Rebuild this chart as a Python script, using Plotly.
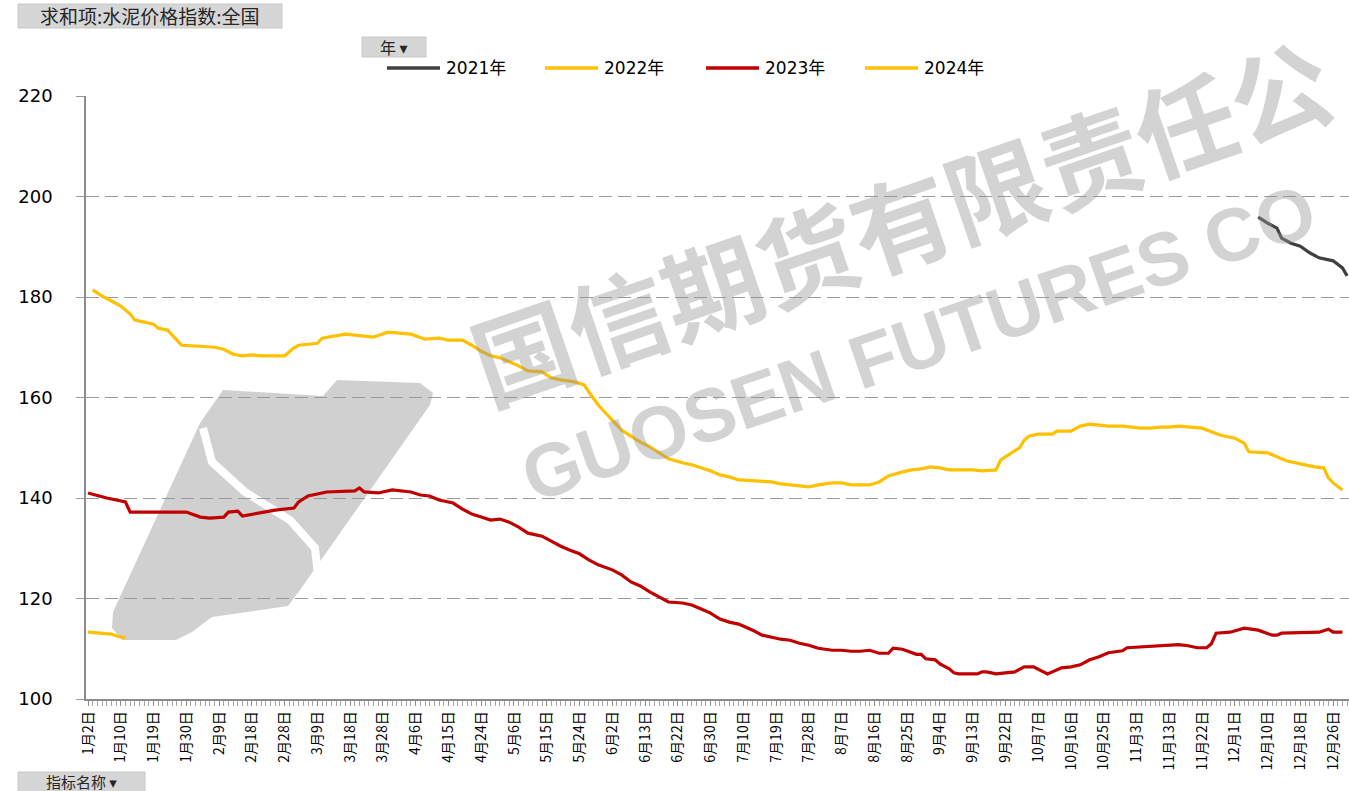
import plotly.graph_objects as go

# ---------------- data ----------------
tick_labels = ["1月2日", "1月10日", "1月19日", "1月30日", "2月9日", "2月18日", "2月28日",
               "3月9日", "3月18日", "3月28日", "4月6日", "4月15日", "4月24日", "5月6日",
               "5月15日", "5月24日", "6月2日", "6月13日", "6月22日", "6月30日", "7月10日",
               "7月19日", "7月28日", "8月7日", "8月16日", "8月25日", "9月4日", "9月13日",
               "9月22日", "10月7日", "10月16日", "10月25日", "11月3日", "11月13日",
               "11月22日", "12月1日", "12月10日", "12月18日", "12月26日"]
TICK_STEP = 7  # categories between labelled ticks

idx_2021 = [250, 252, 254, 255, 257, 259, 261, 263, 266, 268, 269]
val_2021 = [195.9, 194.7, 193.7, 191.7, 190.7, 190.1, 188.8, 187.8, 187.2, 185.8, 184.2]

idx_2022 = [1, 3, 5, 7, 9, 10, 12, 14, 15, 17, 19, 20, 24, 27, 29, 31, 33, 35, 37, 42,
            44, 45, 49, 50, 55, 59, 61, 64, 69, 72, 75, 77, 80, 82, 84, 86, 88, 90, 92,
            94, 97, 99, 101, 104, 106, 107, 109, 112, 114, 116, 118, 120, 122, 124, 127,
            129, 131, 133, 135, 137, 139, 142, 144, 146, 148, 150, 152, 154, 156, 159,
            161, 163, 165, 167, 169, 171, 174, 176, 178, 180, 182, 184, 186, 189, 191,
            193, 194, 195, 197, 199, 200, 201, 203, 206, 207, 210, 212, 214, 216, 218,
            221, 223, 225, 227, 229, 231, 233, 238, 242, 245, 247, 248, 252, 254, 256,
            260, 262, 264, 265, 266, 268]
val_2022 = [181.4, 180.2, 179.2, 178.2, 176.6, 175.4, 175.0, 174.6, 173.8, 173.4, 171.4,
            170.4, 170.2, 170.0, 169.6, 168.6, 168.3, 168.5, 168.3, 168.3, 169.9, 170.4,
            170.8, 171.8, 172.6, 172.2, 172.0, 173.0, 172.6, 171.6, 171.8, 171.4, 171.4,
            170.4, 169.2, 168.3, 167.9, 167.1, 166.3, 165.3, 165.1, 163.9, 163.5, 163.1,
            162.5, 161.1, 158.5, 155.5, 153.5, 152.3, 151.1, 150.2, 149.0, 147.8, 147.0,
            146.6, 146.0, 145.4, 144.6, 144.2, 143.6, 143.4, 143.2, 143.2, 142.8, 142.6,
            142.4, 142.2, 142.6, 143.0, 143.0, 142.6, 142.6, 142.6, 143.2, 144.4, 145.2,
            145.6, 145.8, 146.2, 146.0, 145.6, 145.6, 145.6, 145.4, 145.6, 145.6, 147.6,
            148.8, 150.0, 151.5, 152.3, 152.7, 152.7, 153.3, 153.3, 154.3, 154.7, 154.5,
            154.3, 154.3, 154.1, 153.9, 153.9, 154.1, 154.1, 154.3, 153.9, 152.5, 151.9,
            150.9, 149.2, 149.0, 148.2, 147.4, 146.6, 146.2, 146.0, 144.0, 143.0, 141.6]

idx_2023 = [0, 4, 8, 9, 21, 24, 26, 29, 30, 32, 33, 37, 40, 44, 45, 47, 51, 57, 58, 59,
            62, 65, 69, 71, 73, 75, 78, 80, 82, 84, 86, 88, 90, 92, 94, 97, 99, 101, 103,
            105, 107, 109, 112, 114, 116, 118, 120, 122, 124, 127, 129, 131, 133, 135,
            137, 139, 142, 144, 146, 148, 150, 152, 154, 156, 159, 161, 163, 165, 167,
            169, 171, 172, 174, 176, 177, 178, 179, 181, 182, 184, 185, 186, 190, 191,
            192, 194, 196, 198, 200, 202, 205, 206, 208, 210, 212, 214, 216, 218, 221,
            222, 225, 229, 231, 233, 235, 237, 239, 240, 241, 244, 247, 250, 253, 254,
            255, 263, 265, 266, 268]
val_2023 = [141.0, 140.0, 139.2, 137.2, 137.2, 136.2, 136.0, 136.2, 137.2, 137.4, 136.4,
            137.0, 137.6, 138.0, 139.2, 140.4, 141.2, 141.4, 142.0, 141.2, 141.0, 141.6,
            141.2, 140.6, 140.4, 139.6, 139.0, 137.8, 136.8, 136.2, 135.6, 135.8, 135.2,
            134.2, 133.0, 132.4, 131.4, 130.4, 129.6, 128.9, 127.7, 126.7, 125.7, 124.7,
            123.3, 122.5, 121.3, 120.3, 119.3, 119.1, 118.7, 117.9, 117.1, 115.9, 115.3,
            114.9, 113.7, 112.7, 112.3, 111.9, 111.7, 111.1, 110.7, 110.1, 109.7, 109.7,
            109.5, 109.5, 109.7, 109.1, 109.1, 110.1, 109.9, 109.3, 108.9, 108.9, 108.0,
            107.8, 107.0, 106.0, 105.2, 105.0, 105.0, 105.4, 105.4, 105.0, 105.2, 105.4,
            106.4, 106.4, 105.0, 105.4, 106.2, 106.4, 106.8, 107.8, 108.4, 109.2, 109.6,
            110.2, 110.4, 110.6, 110.8, 110.8, 110.6, 110.2, 110.2, 111.0, 113.1, 113.3,
            114.1, 113.7, 112.7, 112.7, 113.1, 113.3, 113.9, 113.3, 113.3]

idx_2024 = [0, 3, 5, 6, 7, 8]
val_2024 = [113.3, 113.1, 112.9, 112.6, 112.3, 112.2]

series_names = ["2021年", "2022年", "2023年", "2024年"]
series_colors = ["#404040", "#FFC000", "#C00000", "#FFC000"]

# ---------------- geometry helpers (pixel -> paper) ----------------
W, H = 1349, 791
PL, PR, PT, PB = 86, 1349, 96, 699


def xp(px):
    return (px - PL) / (PR - PL)


def yp(py):
    return (PB - py) / (PB - PT)


fig = go.Figure()
all_idx = [idx_2021, idx_2022, idx_2023, idx_2024]
all_val = [val_2021, val_2022, val_2023, val_2024]
for name, col, xs, ys in zip(series_names, series_colors, all_idx, all_val):
    fig.add_trace(go.Scatter(x=xs, y=ys, mode="lines", name=name,
                             line=dict(color=col, width=3.2, shape="linear"),
                             showlegend=False, hoverinfo="x+y+name"))

tickvals = [i * TICK_STEP for i in range(len(tick_labels))]

fig.update_layout(
    width=W, height=H,
    margin=dict(l=PL, r=W - PR, t=PT, b=H - PB),
    paper_bgcolor="white", plot_bgcolor="white",
    font=dict(family="Noto Sans CJK SC, DejaVu Sans, sans-serif", color="#000000"),
    xaxis=dict(
        range=[-0.43, 269.4], tickmode="array", tickvals=tickvals, ticktext=tick_labels,
        tickangle=-90, tickfont=dict(size=14, family="Noto Sans CJK SC, sans-serif"),
        showgrid=False, zeroline=False, showline=True, linecolor="#8c8c8c", linewidth=1.5,
        ticks="outside", ticklen=5, tickcolor="#8c8c8c", tickwidth=1,
        minor=dict(dtick=1, tick0=0, ticks="outside", ticklen=5, tickcolor="#a6a6a6", tickwidth=1),
        fixedrange=True,
    ),
    yaxis=dict(
        range=[100, 220], tickmode="array", tickvals=[100, 120, 140, 160, 180, 200, 220],
        ticktext=["100", "120", "140", "160", "180", "200", "220"],
        tickfont=dict(size=18, family="DejaVu Sans, sans-serif", color="#000000"),
        showgrid=True, gridcolor="#9a9a9a", gridwidth=1.3, griddash="13px,6px",
        zeroline=False, showline=True, linecolor="#8c8c8c", linewidth=1.5,
        ticks="outside", ticklen=8, tickcolor="#9a9a9a", tickwidth=1.3,
        ticklabelstandoff=20, fixedrange=True,
    ),
)

annotations = []
shapes = []

# Watermark logo (grey slanted shape with white S stripe)
logo_pts = [(223, 390), (323, 396), (337, 380), (420, 383), (433, 393), (430, 405),
            (300, 590), (288, 606), (212, 617), (192, 632), (176, 640), (122, 640),
            (112, 628), (113, 612), (200, 423)]
path = "M " + " L ".join(f"{xp(a):.5f},{yp(b):.5f}" for a, b in logo_pts) + " Z"
shapes.append(dict(type="path", path=path, xref="paper", yref="paper",
                   fillcolor="rgba(150,150,150,0.45)", line=dict(width=0), layer="below"))
s_pts = [(203, 428), (212, 462), (245, 492), (290, 520), (315, 548), (318, 575), (300, 605)]
spath = "M " + " L ".join(f"{xp(a):.5f},{yp(b):.5f}" for a, b in s_pts)
shapes.append(dict(type="path", path=spath, xref="paper", yref="paper",
                   line=dict(color="white", width=8), layer="below"))

# Watermark texts (only the part visible in the frame)
annotations.append(dict(text="<b>国信期货有限责任公</b>", xref="paper", yref="paper",
                        x=xp(900), y=yp(218), xanchor="center", yanchor="middle",
                        showarrow=False, textangle=-19,
                        font=dict(size=100, color="rgba(150,150,150,0.42)",
                                  family="Noto Sans CJK SC")))
annotations.append(dict(text="<b>GUOSEN FUTURES CO</b>", xref="paper", yref="paper",
                        x=xp(918), y=yp(343), xanchor="center", yanchor="middle",
                        showarrow=False, textangle=-19,
                        font=dict(size=75, color="rgba(150,150,150,0.42)",
                                  family="Liberation Sans, Arial, sans-serif")))

# Header field buttons
shapes.append(dict(type="rect", xref="paper", yref="paper", x0=xp(18), x1=xp(282),
                   y0=yp(28), y1=yp(4), fillcolor="#d6d6d6", line=dict(color="#c8c8c8", width=1)))
annotations.append(dict(text="求和项:水泥价格指数:全国", xref="paper", yref="paper",
                        x=xp(150), y=yp(16), showarrow=False, xanchor="center", yanchor="middle",
                        font=dict(size=19, color="#262626")))
shapes.append(dict(type="rect", xref="paper", yref="paper", x0=xp(362), x1=xp(426),
                   y0=yp(57), y1=yp(37), fillcolor="#d6d6d6", line=dict(color="#c8c8c8", width=1)))
annotations.append(dict(text="年 ▾", xref="paper", yref="paper",
                        x=xp(394), y=yp(47), showarrow=False, xanchor="center", yanchor="middle",
                        font=dict(size=16, color="#262626")))
shapes.append(dict(type="rect", xref="paper", yref="paper", x0=xp(18), x1=xp(145),
                   y0=yp(795), y1=yp(772), fillcolor="#d6d6d6", line=dict(color="#c8c8c8", width=1)))
annotations.append(dict(text="指标名称 ▾", xref="paper", yref="paper",
                        x=xp(81), y=yp(781), showarrow=False, xanchor="center", yanchor="middle",
                        font=dict(size=15, color="#262626")))

# Legend (drawn manually to match long line samples)
legend_x = [387, 545, 706, 865]
for name, col, lx in zip(series_names, series_colors, legend_x):
    shapes.append(dict(type="line", xref="paper", yref="paper", x0=xp(lx), x1=xp(lx + 53),
                       y0=yp(68), y1=yp(68), line=dict(color=col, width=3.5)))
    annotations.append(dict(text=name, xref="paper", yref="paper", x=xp(lx + 57), y=yp(68),
                            showarrow=False, xanchor="left", yanchor="middle",
                            font=dict(size=17, color="#000000",
                                      family="DejaVu Sans, Noto Sans CJK SC, sans-serif")))

fig.update_layout(shapes=shapes, annotations=annotations)
fig.write_html("out.html", config={"displayModeBar": False},
               post_script="document.body.style.margin='0px';")
